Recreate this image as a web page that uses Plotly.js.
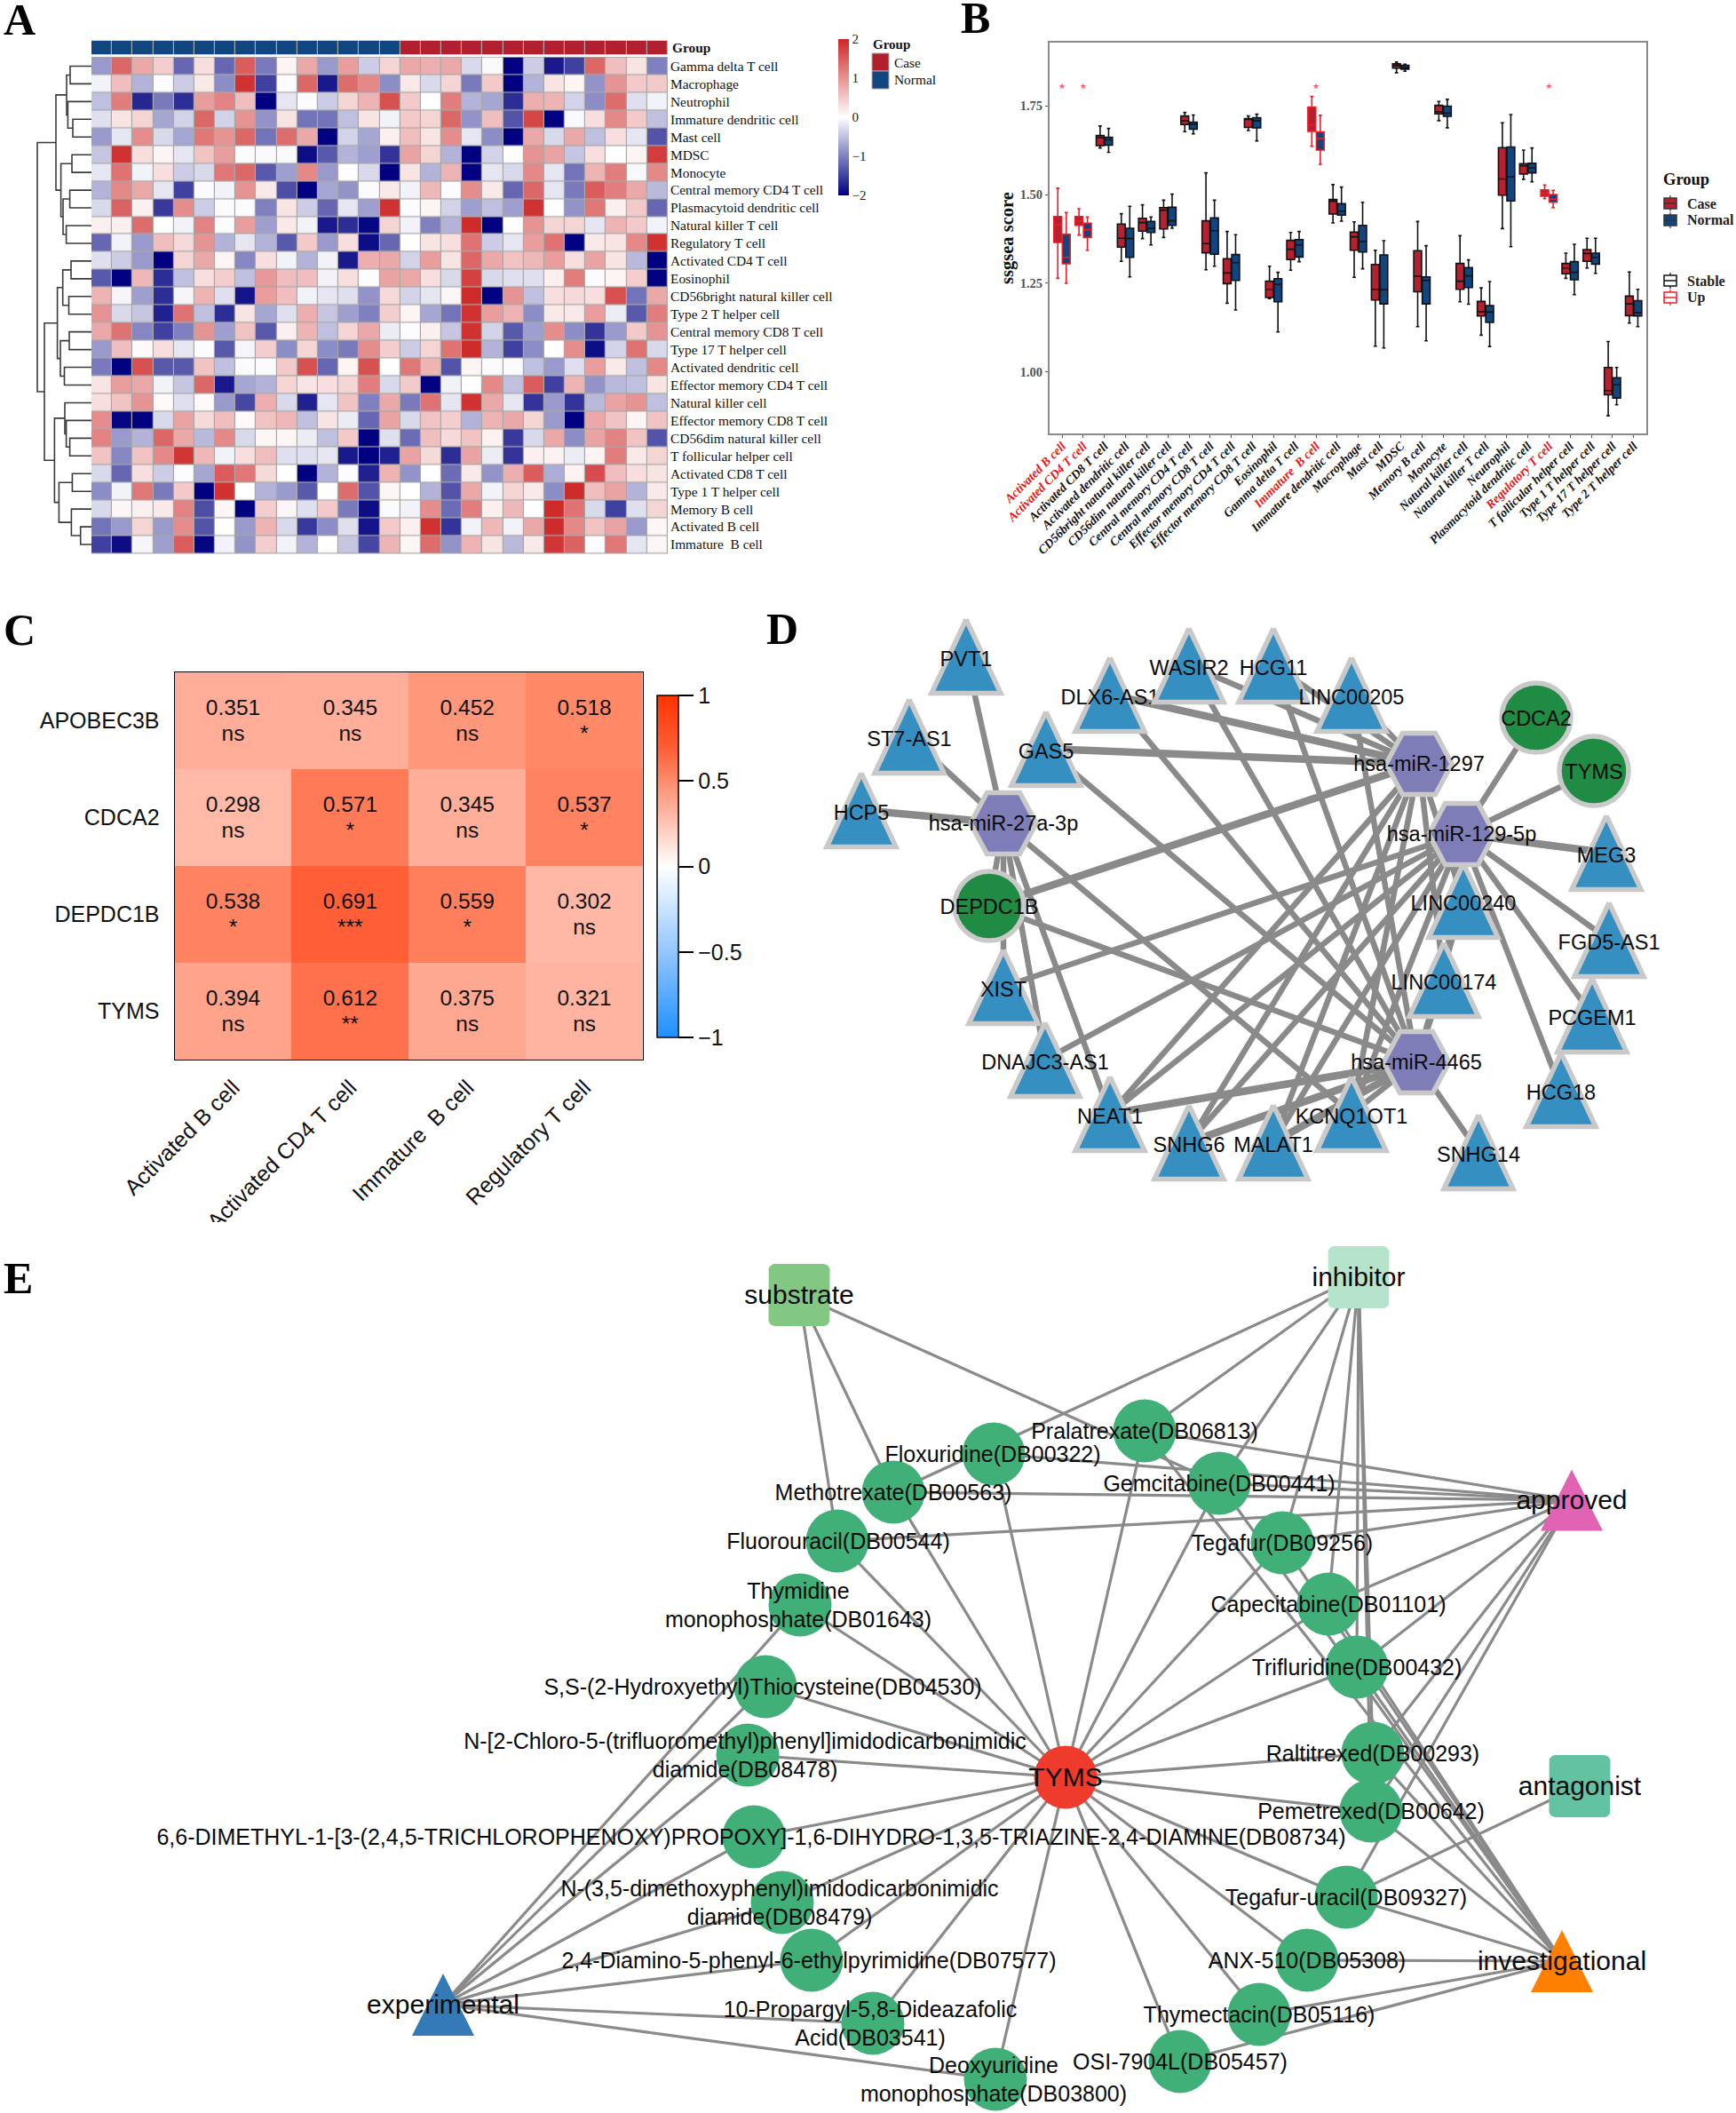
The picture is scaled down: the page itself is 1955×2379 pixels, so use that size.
<!DOCTYPE html>
<html><head><meta charset="utf-8">
<script src="https://cdn.plot.ly/plotly-3.0.1.min.js"></script>
<style>html,body{margin:0;padding:0;background:#fff}#g{width:1955px;height:2379px}</style>
</head><body><div id="g"></div>
<script>
const W=1955,H=2379;
const SERIF='"Liberation Serif","Times New Roman",serif', SANS='"Liberation Sans",Arial,sans-serif';

/* ---------- Panel A data ---------- */
const heatRows=["Gamma delta T cell","Macrophage","Neutrophil","Immature dendritic cell","Mast cell","MDSC","Monocyte","Central memory CD4 T cell","Plasmacytoid dendritic cell","Natural killer T cell","Regulatory T cell","Activated CD4 T cell","Eosinophil","CD56bright natural killer cell","Type 2 T helper cell","Central memory CD8 T cell","Type 17 T helper cell","Activated dendritic cell","Effector memory CD4 T cell","Natural killer cell","Effector memory CD8 T cell","CD56dim natural killer cell","T follicular helper cell","Activated CD8 T cell","Type 1 T helper cell","Memory B cell","Activated B cell","Immature  B cell"];
const heatValues=[
[-0.8,1.4,0.8,0.45,-1.2,0.3,-1.2,1.5,-1.05,0.1,0.8,-0.8,0.9,-0.4,0.4,0.8,0.75,0.8,-0.3,-0.05,-2,-0.4,-1.8,-1.5,1.4,0.6,0.25,-1.0],
[-0.1,0.6,-0.6,-0.02,-0.4,0.2,-0.9,1.9,-1.5,-0.02,1.4,-1.8,1.35,1.1,-0.9,0.2,-0.3,0.4,-1.05,0.5,-2,-0.6,0.25,0.1,-0.85,1.0,0.5,0.5],
[-0.5,1.2,-1.7,-1.05,-1.65,0.9,1.15,0.6,-2,-0.2,-0.02,-0.4,0.4,0.7,1.6,0.5,0,1.2,-0.6,-0.7,-1.65,0.75,0.7,-0.35,-0.9,1.35,-0.25,-0.1],
[-0.25,0.25,0.4,-0.7,-0.35,1.4,-0.35,1.0,-0.85,0.25,-1.1,-1.1,-0.5,0.25,-0.1,0.5,0.4,1.4,-0.85,0.6,-1.35,1.7,-2,-0.05,0.3,1.1,0.5,-0.5],
[-0.8,-0.2,1.05,-0.3,-0.7,1.25,1.0,1.4,-1.1,1.35,0.8,-2,-0.35,-0.7,0.15,0.6,0.25,1.05,-0.2,-0.9,-2,0.8,-0.3,0.8,-0.5,0.3,-0.2,-1.35],
[-0.45,1.9,0.3,0.1,-0.2,0.55,0.9,0.02,-0.05,-0.05,-1.9,-1.3,-0.6,-0.75,-1.6,0.85,0.4,-0.6,-2,-0.35,0.02,1.0,0.85,-0.45,0.3,0,0.1,1.8],
[-0.2,1.3,-0.1,0.3,-0.4,-0.3,1.25,1.4,-1.3,-0.75,1.1,-0.8,0.02,-0.3,-2,0.25,-0.6,0.7,-2,-0.2,-0.3,1.1,-0.2,-1.1,0.7,1.2,-0.05,1.1],
[-0.6,1.1,0.8,-0.2,-1.5,-0.03,-0.1,1.0,0.2,-1.4,-2,-0.7,-0.85,-0.03,0.2,-0.1,0.65,-0.02,1.05,0.2,-1.2,1.4,-0.2,-1.05,1.5,1.2,0.8,-0.55],
[-0.3,1.45,0.15,-1.55,1.05,-0.4,-0.03,-0.03,-1.0,0.25,-0.4,-1.2,-0.2,-0.75,1.9,-0.02,0.1,-0.35,-0.75,-0.5,-0.75,1.9,0,-0.85,1.25,0.15,0.5,-1.2],
[0.15,0.15,1.35,0,-0.1,1.15,-0.02,0.9,-0.75,0.2,-0.1,-1.8,-1.65,-1.95,0.4,-0.1,-1.0,-0.6,1.95,-2,0,1.0,0.4,0.4,-0.2,0.7,0.5,-0.1],
[-1.2,-0.1,-0.8,0.6,0.35,1.0,-0.6,-0.2,-0.6,-1.3,0.5,-0.8,0.3,-1.9,-1.2,0,0.25,0.3,1.3,-0.4,-0.2,0.9,1.3,-2,0.2,0.25,1.1,1.9],
[-0.25,-0.4,-0.8,-2,0.4,0.8,0.1,-0.95,0.3,-0.1,-0.6,-0.1,-1.8,0.75,0.8,-0.35,0.9,0.25,1.4,0.8,0.55,0.65,0.9,0.3,0.85,0.25,-0.55,-2],
[-1.3,-2,0.65,-1.65,-0.5,0.3,0.45,-0.5,0.95,0.6,0.6,-0.1,0.3,-0.02,0.85,0.8,0.3,-0.3,1.75,-0.3,-0.25,-0.25,0.15,1.2,-0.02,0.1,0.45,-2],
[0.7,-0.08,-0.75,-1.65,-0.08,0.7,-0.25,-1.85,0.9,0.6,-0.1,-0.2,-0.25,-0.85,0.35,-0.35,-0.2,0.08,1.95,-2,1.0,-0.5,0.3,0.35,0.3,1.6,-1.1,0.8],
[1.0,-0.3,-0.45,-1.75,1.3,-0.5,-1.65,0.25,-0.7,-0.25,0.75,-0.45,-0.75,-1.0,0.45,0.1,-0.7,-1.1,1.9,0.9,0.7,-0.9,0.2,0.2,0.9,-0.15,-1.3,1.2],
[0.8,1.3,-0.95,-1.5,-1.0,1.0,-0.75,0.55,-1.3,0.15,0.7,-0.5,0.4,0.8,-0.15,-0.02,0.15,-0.45,1.9,-0.35,-1.3,-0.75,1.05,-0.9,-1.6,-0.8,0.5,1.0],
[-0.8,0.6,0.05,0.3,-0.2,-0.02,-1.3,-0.08,0.45,-0.9,0.4,-0.9,-1.05,1.05,0.45,-0.4,0.4,1.3,1.95,-0.6,-1.5,-0.9,0,1.05,-1.9,-0.35,1.3,-0.3],
[-1.05,-2,1.6,-1.3,-1.3,0.55,-0.5,-0.03,-0.03,0.5,1.6,-1.2,0.1,1.6,0,1.25,0.7,-1.35,0.1,-0.03,-0.03,-0.5,-0.8,-0.25,0.9,0.2,-0.5,1.1],
[0.25,0.9,0.8,-0.1,-0.45,1.4,-1.8,-0.7,-0.6,0.4,0.25,0.3,0.4,1.2,-0.3,0.5,-2,-0.1,0,1.1,-0.5,1.5,-1.5,0.7,-0.85,-0.55,-0.5,0.25],
[0.3,0.55,1.0,0.05,-0.25,0.05,-0.8,-1.45,0.75,-0.3,-1.75,-0.2,0.55,-1.0,0.8,-1.05,1.3,-0.2,1.9,0.8,-0.2,-1.6,-0.8,-1.6,-0.55,0.85,1.0,-0.5],
[1.05,-1.95,-2,-0.3,0.85,0.35,0.6,0.05,0.55,0.65,-0.5,0.25,-0.15,-1.2,0.85,-0.3,0.55,0.45,-0.6,0.7,0.8,0.4,-0.8,-2,0.8,0.55,0.1,0.55],
[1.15,-0.8,-0.6,1.4,0.8,-0.55,1.1,-0.3,0.08,0.08,-0.15,-0.5,0.5,-2,-0.25,-1.15,0.6,0.35,0.55,0.12,-1.55,-0.3,0.8,-0.9,0.85,1.15,0.55,-1.35],
[0.55,-0.95,0.55,1.1,1.85,0.65,-0.1,0.3,0.6,-0.25,-0.25,-0.2,-1.8,-2,-1.75,0.85,0.35,-1.65,0.85,-0.15,-1.6,0.15,0.12,-0.15,0.1,1.2,0.2,0.4],
[-0.3,-1.2,0.3,-0.4,-0.02,-0.7,1.5,1.25,0.35,0,-2,-0.6,-0.02,-1.75,0.7,-0.85,0,-1.15,0.2,-0.85,0.75,1.5,-0.65,0.12,1.65,0.6,0.3,0.25],
[-0.9,-0.1,1.25,-1.05,0.5,-2,1.9,0,-0.6,-0.8,-1.3,0,1.35,-1.35,0.08,0,-0.6,-1.35,0.8,-0.1,0.4,0.2,-0.9,1.95,0.6,0.85,-0.6,0.2],
[-0.3,0.08,0.15,0.2,1.15,-1.4,0.08,-2,0.45,0.08,-0.25,0.5,-1.05,-1.9,-0.03,-0.1,1.05,-1.15,1.2,0.15,0.65,0,1.95,1.3,-0.3,-1.5,-0.25,0.4],
[-1.1,-0.8,0.4,-0.8,1.05,-1.35,0,-0.8,0.7,-0.3,-1.55,-0.9,-0.25,-1.85,0.5,0.15,1.9,-1.6,-0.1,0.65,-0.1,0.8,1.95,1.1,0.55,0.85,-0.8,0.08],
[-1.5,-1.9,-0.08,-0.75,1.5,-1.95,-0.1,-0.85,0.45,-0.1,-0.6,0,-0.45,-1.45,0.7,0.08,1.35,-0.85,0.7,0.25,-0.55,0.2,1.85,1.45,-0.02,1.25,-0.2,0.08]];
const groupBar=[0,0,0,0,0,0,0,0,0,0,0,0,0,0,0,1,1,1,1,1,1,1,1,1,1,1,1,1];
/* dendrogram merges: [childA, childB, height]; leaves are rows 0..27, merged nodes number on from 28 */
const dendroMerges=[[0,1,24],[3,4,21],[2,29,26.6],[28,30,28],[5,6,22],[7,8,24.4],[9,10,28.4],[33,34,32],[32,35,34.4],[31,36,40],
[11,12,23],[13,14,25.5],[38,39,32.3],[15,16,25],[17,18,30.5],[41,42,35],[40,43,38.4],[21,22,24.4],[20,45,28.4],[19,46,30],
[23,24,21.6],[26,27,12.3],[25,49,22.6],[48,50,36.6],[47,51,41.6],[44,52,53],[37,53,61]];

/* ---------- Panel B data ---------- */
const ssCells=["Activated B cell","Activated CD4 T cell","Activated CD8 T cell","Activated dendritic cell","CD56bright natural killer cell","CD56dim natural killer cell","Central memory CD4 T cell","Central memory CD8 T cell","Effector memory CD4 T cell","Effector memory CD8 T cell","Eosinophil","Gamma delta T cell","Immature  B cell","Immature dendritic cell","Macrophage","Mast cell","MDSC","Memory B cell","Monocyte","Natural killer cell","Natural killer T cell","Neutrophil","Plasmacytoid dendritic cell","Regulatory T cell","T follicular helper cell","Type 1 T helper cell","Type 17 T helper cell","Type 2 T helper cell"];
const upCells=[0,1,12,23];
const caseLow=[1.264,1.386,1.631,1.312,1.376,1.379,1.677,1.288,1.194,1.68,1.207,1.287,1.636,1.42,1.267,1.073,1.843,1.128,1.708,1.198,1.104,1.404,1.543,1.488,1.264,1.293,0.877,1.138];
const caseQ1=[1.365,1.413,1.638,1.352,1.397,1.403,1.697,1.336,1.249,1.689,1.21,1.317,1.678,1.445,1.343,1.203,1.856,1.226,1.727,1.233,1.158,1.498,1.558,1.495,1.277,1.312,0.936,1.159];
const caseMed=[1.414,1.426,1.66,1.377,1.421,1.456,1.708,1.362,1.279,1.712,1.233,1.346,1.696,1.481,1.381,1.233,1.863,1.27,1.733,1.256,1.17,1.544,1.581,1.504,1.293,1.334,0.948,1.192];
const caseQ3=[1.438,1.438,1.666,1.417,1.433,1.463,1.721,1.426,1.319,1.714,1.256,1.371,1.746,1.486,1.394,1.303,1.868,1.342,1.751,1.306,1.199,1.632,1.587,1.513,1.306,1.345,1.013,1.214];
const caseHigh=[1.518,1.46,1.693,1.446,1.471,1.484,1.731,1.561,1.396,1.721,1.298,1.393,1.776,1.528,1.423,1.343,1.873,1.424,1.762,1.384,1.237,1.702,1.625,1.527,1.335,1.377,1.086,1.282];
const normLow=[1.25,1.343,1.619,1.268,1.358,1.405,1.671,1.298,1.175,1.651,1.113,1.311,1.585,1.425,1.291,1.068,1.847,1.088,1.688,1.191,1.072,1.353,1.536,1.463,1.218,1.278,0.908,1.128];
const normQ1=[1.305,1.379,1.639,1.323,1.393,1.413,1.684,1.332,1.258,1.688,1.198,1.324,1.625,1.442,1.338,1.192,1.853,1.192,1.72,1.238,1.14,1.482,1.561,1.478,1.26,1.304,0.927,1.158];
const normMed=[1.323,1.401,1.654,1.376,1.405,1.426,1.698,1.398,1.308,1.708,1.247,1.358,1.658,1.453,1.368,1.232,1.858,1.258,1.729,1.271,1.169,1.55,1.575,1.487,1.281,1.323,0.964,1.167];
const normQ3=[1.388,1.419,1.661,1.405,1.424,1.464,1.704,1.434,1.331,1.716,1.263,1.373,1.676,1.474,1.413,1.33,1.864,1.268,1.749,1.294,1.187,1.634,1.588,1.5,1.311,1.335,0.984,1.201];
const normHigh=[1.449,1.437,1.686,1.467,1.437,1.501,1.724,1.484,1.387,1.726,1.281,1.396,1.723,1.521,1.478,1.37,1.867,1.356,1.768,1.316,1.255,1.725,1.631,1.512,1.36,1.377,1.013,1.233];

/* ---------- Panel C data ---------- */
const corrGenes=["APOBEC3B","CDCA2","DEPDC1B","TYMS"];
const corrCells=["Activated B cell","Activated CD4 T cell","Immature  B cell","Regulatory T cell"];
const corrR=[[0.351,0.345,0.452,0.518],[0.298,0.571,0.345,0.537],[0.538,0.691,0.559,0.302],[0.394,0.612,0.375,0.321]];
const corrSig=[["ns","ns","ns","*"],["ns","*","ns","*"],["*","***","*","ns"],["ns","**","ns","ns"]];

/* ---------- Panel D data ---------- */
const lncNames=["PVT1","ST7-AS1","HCP5","GAS5","DLX6-AS1","WASIR2","HCG11","LINC00205","MEG3","LINC00240","FGD5-AS1","LINC00174","PCGEM1","HCG18","XIST","DNAJC3-AS1","NEAT1","SNHG6","MALAT1","KCNQ1OT1","SNHG14"];
const lncX=[1088,1024,970,1178,1250,1339,1434,1522,1809,1648,1812,1626,1793,1758,1130,1177,1250,1339,1434,1522,1665];
const lncY=[739,829,912,843,782,749,749,782,960,1014,1058,1103,1143,1227,1111,1193,1254,1286,1286,1254,1297];
const mirNames=["hsa-miR-1297","hsa-miR-129-5p","hsa-miR-27a-3p","hsa-miR-4465"];
const mirX=[1598,1646,1130,1595];
const mirY=[860,939,927,1196];
const geneNames=["CDCA2","TYMS","DEPDC1B"];
const geneX=[1730,1795,1114];
const geneY=[808,868,1020];
const thinEdges=[["hsa-miR-27a-3p","PVT1"],["hsa-miR-27a-3p","ST7-AS1"],["hsa-miR-27a-3p","DEPDC1B"],["hsa-miR-27a-3p","XIST"],["hsa-miR-27a-3p","DNAJC3-AS1"],["hsa-miR-27a-3p","NEAT1"],["hsa-miR-27a-3p","KCNQ1OT1"],
["hsa-miR-1297","LINC00205"],["hsa-miR-1297","HCG11"],["hsa-miR-1297","WASIR2"],["hsa-miR-1297","NEAT1"],["hsa-miR-1297","SNHG6"],["hsa-miR-1297","MALAT1"],["hsa-miR-1297","KCNQ1OT1"],["hsa-miR-1297","LINC00240"],["hsa-miR-1297","LINC00174"],
["hsa-miR-129-5p","CDCA2"],["hsa-miR-129-5p","TYMS"],["hsa-miR-129-5p","FGD5-AS1"],["hsa-miR-129-5p","PCGEM1"],["hsa-miR-129-5p","HCG18"],["hsa-miR-129-5p","XIST"],["hsa-miR-129-5p","DNAJC3-AS1"],["hsa-miR-129-5p","NEAT1"],["hsa-miR-129-5p","SNHG6"],["hsa-miR-129-5p","MALAT1"],["hsa-miR-129-5p","KCNQ1OT1"],["hsa-miR-129-5p","LINC00240"],["hsa-miR-129-5p","LINC00174"],
["hsa-miR-4465","DLX6-AS1"],["hsa-miR-4465","WASIR2"],["hsa-miR-4465","HCG11"],["hsa-miR-4465","GAS5"],["hsa-miR-4465","DEPDC1B"],["hsa-miR-4465","KCNQ1OT1"],["hsa-miR-4465","SNHG14"],["hsa-miR-4465","LINC00174"],["hsa-miR-4465","LINC00240"],["hsa-miR-4465","LINC00205"]];
const thickEdges=[["hsa-miR-27a-3p","HCP5"],["hsa-miR-1297","DLX6-AS1"],["hsa-miR-1297","GAS5"],["hsa-miR-1297","DEPDC1B"],["hsa-miR-129-5p","MEG3"],["hsa-miR-4465","NEAT1"],["hsa-miR-4465","SNHG6"],["hsa-miR-4465","MALAT1"]];

/* ---------- Panel E data ---------- */
const drugIds=["DB00322","DB06813","DB00563","DB00441","DB00544","DB09256","DB01643","DB01101","DB00432","DB04530","DB08478","DB00293","DB00642","DB08734","DB08479","DB07577","DB09327","DB05308","DB05116","DB03541","DB05457","DB03800"];
const drugLabels=["Floxuridine(DB00322)","Pralatrexate(DB06813)","Methotrexate(DB00563)","Gemcitabine(DB00441)","Fluorouracil(DB00544)","Tegafur(DB09256)","Thymidine<br>monophosphate(DB01643)","Capecitabine(DB01101)","Trifluridine(DB00432)","S,S-(2-Hydroxyethyl)Thiocysteine(DB04530)","N-[2-Chloro-5-(trifluoromethyl)phenyl]imidodicarbonimidic<br>diamide(DB08478)","Raltitrexed(DB00293)","Pemetrexed(DB00642)","6,6-DIMETHYL-1-[3-(2,4,5-TRICHLOROPHENOXY)PROPOXY]-1,6-DIHYDRO-1,3,5-TRIAZINE-2,4-DIAMINE(DB08734)","N-(3,5-dimethoxyphenyl)imidodicarbonimidic<br>diamide(DB08479)","2,4-Diamino-5-phenyl-6-ethylpyrimidine(DB07577)","Tegafur-uracil(DB09327)","ANX-510(DB05308)","Thymectacin(DB05116)","10-Propargyl-5,8-Dideazafolic<br>Acid(DB03541)","OSI-7904L(DB05457)","Deoxyuridine<br>monophosphate(DB03800)"];
const drugX=[1119,1289,1006,1373,943,1444,901,1496,1528,862,842,1546,1544,849,881,914,1516,1472,1418,983,1329,1121];
const drugY=[1637,1611,1680,1670,1735,1737,1807,1806,1877,1899,1976,1974,2039,2068,2142,2207,2136,2207,2268,2278,2321,2341];
const drugLabelX=[1118,1289,1006,1373,944,1444,899,1496,1528,859,839,1546,1544,846,878,911,1516,1472,1418,980,1329,1119];
const hubNames=["substrate","inhibitor","antagonist","approved","investigational","experimental","TYMS"];
const hubX=[900,1530,1779,1770,1759,499,1200];
const hubY=[1458,1438,2011,1689,2208,2257,2001];
const hubEdges={
 substrate:["DB00563","DB00544","DB00441"],
 inhibitor:["DB00563","DB06813","DB00441","DB09256","DB01101","DB00432","DB00293","DB00642"],
 antagonist:["DB09327"],
 approved:["DB00322","DB06813","DB00563","DB00441","DB00544","DB09256","DB01101","DB00432","DB00293","DB00642","DB09327"],
 investigational:["DB06813","DB00441","DB09256","DB01101","DB00432","DB00293","DB00642","DB09327","DB05308","DB05116","DB05457"],
 experimental:["DB01643","DB04530","DB08478","DB08734","DB08479","DB07577","DB03541","DB03800"],
 TYMS:drugIds};

/* ---------- helpers ---------- */
const dx=(a,b)=>[a/W,b/W], dy=(a,b)=>[1-b/H,1-a/H];
const range=n=>Array.from({length:n},(_,i)=>i);
const pick=(arr,ids)=>ids.map(i=>arr[i]);
const traces=[], shapes=[], ann=[];
const hide={visible:false,fixedrange:true};

/* A: heat */
shapes.push({type:'rect',xref:'paper',yref:'paper',x0:103/W,x1:752/W,y0:1-623.5/H,y1:1-64/H,fillcolor:'#a8a8a8',line:{width:0},layer:'below'});
shapes.push({type:'rect',xref:'paper',yref:'paper',x0:103/W,x1:752/W,y0:1-61.5/H,y1:1-45.5/H,fillcolor:'#a8a8a8',line:{width:0},layer:'below'});
traces.push({type:'heatmap',z:heatValues,x:range(28),y:range(28),xaxis:'x',yaxis:'y',zmin:-2,zmax:2,xgap:1.2,ygap:1.2,hoverinfo:'skip',
 colorscale:[[0,'#000080'],[0.5,'#ffffff'],[1,'#CD2626']],
 colorbar:{x:944/W,xanchor:'left',xpad:0,ypad:0,y:1-44/H,yanchor:'top',len:176,lenmode:'pixels',thickness:12,thicknessmode:'pixels',outlinewidth:0,ticks:'',
  tickmode:'array',tickvals:[-2,-1,0,1,2],ticktext:['−2','−1','0','1','2'],tickfont:{family:SERIF,size:15,color:'#222'}}});
traces.push({type:'heatmap',z:[groupBar],x:range(28),y:[0],xaxis:'x2',yaxis:'y2',zmin:0,zmax:1,xgap:1.2,ygap:0,showscale:false,hoverinfo:'skip',
 colorscale:[[0,'#11457F'],[1,'#B2202F']]});
/* dendrogram */
(function(){
 const nodeY=range(28).slice(), nodeH=range(28).map(()=>0), xs=[], ys=[];
 dendroMerges.forEach(([a,b,h])=>{
  xs.push(nodeH[a],h,h,nodeH[b],null); ys.push(nodeY[a],nodeY[a],nodeY[b],nodeY[b],null);
  nodeY.push((nodeY[a]+nodeY[b])/2); nodeH.push(h);
 });
 traces.push({type:'scatter',mode:'lines',x:xs,y:ys,xaxis:'x3',yaxis:'y3',line:{color:'#3a3a3a',width:1.6},hoverinfo:'skip',showlegend:false});
})();
/* B: boxes */
function boxTrace(name,ids,off,src,fill,col){
 return {type:'box',name,x:ids.map(i=>i+off),q1:pick(src[1],ids),median:pick(src[2],ids),q3:pick(src[3],ids),lowerfence:pick(src[0],ids),upperfence:pick(src[4],ids),
  width:0.37,whiskerwidth:0.42,fillcolor:fill,line:{color:col,width:1.6},boxpoints:false,xaxis:'x4',yaxis:'y4',hoverinfo:'skip',showlegend:false};
}
const stableCells=range(28).filter(i=>!upCells.includes(i));
const caseSrc=[caseLow,caseQ1,caseMed,caseQ3,caseHigh], normSrc=[normLow,normQ1,normMed,normQ3,normHigh];
traces.push(boxTrace('Case',stableCells,-0.2,caseSrc,'#B7202F','#111'));
traces.push(boxTrace('Normal',stableCells,0.2,normSrc,'#11457F','#111'));
traces.push(boxTrace('Case',upCells,-0.2,caseSrc,'#B7202F','#EE1C25'));
traces.push(boxTrace('Normal',upCells,0.2,normSrc,'#11457F','#EE1C25'));
traces.push({type:'scatter',mode:'markers',x:upCells,y:upCells.map(()=>1.805),xaxis:'x4',yaxis:'y4',marker:{symbol:'star',size:5.5,color:'#FF6070'},hoverinfo:'skip',showlegend:false});
/* C: corr */
traces.push({type:'heatmap',z:corrR,x:range(4),y:range(4),xaxis:'x5',yaxis:'y5',zmin:-1,zmax:1,hoverinfo:'skip',
 colorscale:[[0,'#1E90FF'],[0.25,'#93C6FF'],[0.5,'#ffffff'],[0.675,'#FFAD98'],[0.75,'#FF8C6C'],[0.845,'#FF5E36'],[1,'#FF3300']],
 colorbar:{x:740/W,xanchor:'left',xpad:0,ypad:0,y:1-783/H,yanchor:'top',len:384.5,lenmode:'pixels',thickness:24,thicknessmode:'pixels',outlinecolor:'#000',outlinewidth:1.5,ticks:'outside',ticklen:17,tickwidth:1.5,tickcolor:'#000',
  tickmode:'array',tickvals:[-1,-0.5,0,0.5,1],ticktext:['−1','−0.5','0','0.5','1'],tickfont:{family:SANS,size:25,color:'#111'}}});
(function(){
 const xs=[],ys=[],t1=[],t2=[];
 corrGenes.forEach((g,j)=>corrCells.forEach((c,i)=>{xs.push(i);ys.push(j);t1.push(corrR[j][i].toFixed(3));t2.push(corrSig[j][i]);}));
 const f={family:SANS,size:24.5,color:'#111'};
 traces.push({type:'scatter',mode:'text',x:xs,y:ys.map(v=>v-0.115),text:t1,textfont:f,textposition:'middle center',xaxis:'x5',yaxis:'y5',hoverinfo:'skip',showlegend:false});
 traces.push({type:'scatter',mode:'text',x:xs,y:ys.map(v=>v+0.15),text:t2,textfont:f,textposition:'middle center',xaxis:'x5',yaxis:'y5',hoverinfo:'skip',showlegend:false});
})();
/* network helpers (x6/y6 = full-canvas pixel axis) */
function polys(cxs,cys,fn){const X=[],Y=[];cxs.forEach((c,i)=>{fn().forEach(p=>{X.push(c+p[0]);Y.push(cys[i]+p[1]);});X.push(null);Y.push(null);});return {X,Y};}
const triangle=(w,h)=>()=>[[0,-h/2],[w/2,h/2],[-w/2,h/2],[0,-h/2]];
const hexagon=(w,h)=>()=>[[-w/2,0],[-w/4,-h/2],[w/4,-h/2],[w/2,0],[w/4,h/2],[-w/4,h/2],[-w/2,0]];
const rounded=(w,h,r)=>()=>{const p=[];[[w/2-r,-h/2+r,-90],[w/2-r,h/2-r,0],[-w/2+r,h/2-r,90],[-w/2+r,-h/2+r,180]].forEach(([a,b,s])=>{for(let k=0;k<=6;k++){const t=(s+k*15)*Math.PI/180;p.push([a+r*Math.cos(t),b+r*Math.sin(t)]);}});p.push(p[0]);return p;};
function polyTrace(cxs,cys,fn,fill,lc,lw){const {X,Y}=polys(cxs,cys,fn);return {type:'scatter',mode:'lines',x:X,y:Y,fill:'toself',fillcolor:fill,line:{color:lc||fill,width:lw||0,},xaxis:'x6',yaxis:'y6',hoverinfo:'skip',showlegend:false};}
function edgeTrace(list,lookup,w){const X=[],Y=[];list.forEach(([a,b])=>{const p=lookup[a],q=lookup[b];X.push(p[0],q[0],null);Y.push(p[1],q[1],null);});return {type:'scatter',mode:'lines',x:X,y:Y,line:{color:'#8a8a8a',width:w},xaxis:'x6',yaxis:'y6',hoverinfo:'skip',showlegend:false};}
function textTrace(xs,ys,txt,size,shift){return {type:'scatter',mode:'text',x:xs,y:ys.map(v=>v+shift),text:txt,textposition:'middle center',textfont:{family:SANS,size,color:'#0a0a0a'},xaxis:'x6',yaxis:'y6',hoverinfo:'skip',showlegend:false,cliponaxis:false};}
/* D */
const dLook={};
lncNames.forEach((n,i)=>dLook[n]=[lncX[i],lncY[i]]);mirNames.forEach((n,i)=>dLook[n]=[mirX[i],mirY[i]]);geneNames.forEach((n,i)=>dLook[n]=[geneX[i],geneY[i]]);
traces.push(edgeTrace(thinEdges,dLook,6.5));
traces.push(edgeTrace(thickEdges,dLook,8.5));
const frontIdx=lncNames.indexOf('WASIR2'), dlxIdx=lncNames.indexOf('DLX6-AS1');
const backIdx=range(lncNames.length).filter(i=>i!==frontIdx);
traces.push(polyTrace(pick(lncX,backIdx),pick(lncY,backIdx),triangle(78,83),'#368FC1','#C9C9C9',5.5));
traces.push(textTrace([lncX[dlxIdx]],[lncY[dlxIdx]],[lncNames[dlxIdx]],23.5,5));
traces.push(polyTrace([lncX[frontIdx]],[lncY[frontIdx]],triangle(78,83),'#368FC1','#C9C9C9',5.5));
traces.push(polyTrace(mirX,mirY,hexagon(74,69),'#7F7DB7','#C9C9C9',5.5));
traces.push({type:'scatter',mode:'markers',x:geneX,y:geneY,marker:{size:78,color:'#208B42',line:{color:'#C9C9C9',width:5.5}},xaxis:'x6',yaxis:'y6',hoverinfo:'skip',showlegend:false});
const labelIdx=range(lncNames.length).filter(i=>i!==dlxIdx);
traces.push(textTrace(pick(lncX,labelIdx),pick(lncY,labelIdx),pick(lncNames,labelIdx),23.5,5));
traces.push(textTrace(mirX,mirY,mirNames,23.5,2));
traces.push(textTrace(geneX,geneY,geneNames,23.5,3));
/* E */
const eLook={};
drugIds.forEach((n,i)=>eLook[n]=[drugX[i],drugY[i]]);hubNames.forEach((n,i)=>eLook[n]=[hubX[i],hubY[i]]);
const eEdges=[];Object.keys(hubEdges).forEach(h=>hubEdges[h].forEach(d=>eEdges.push([h,d])));
traces.push(edgeTrace(eEdges,eLook,3.2));
traces.push({type:'scatter',mode:'markers',x:drugX,y:drugY,marker:{size:71,color:'#40AF78'},xaxis:'x6',yaxis:'y6',hoverinfo:'skip',showlegend:false});
traces.push({type:'scatter',mode:'markers',x:[hubX[6]],y:[hubY[6]],marker:{size:71,color:'#EE3B2B'},xaxis:'x6',yaxis:'y6',hoverinfo:'skip',showlegend:false});
traces.push(polyTrace([hubX[0]],[hubY[0]],rounded(69,70,7),'#82C882'));
traces.push(polyTrace([hubX[1]],[hubY[1]],rounded(69,70,7),'#B5E3CB'));
traces.push(polyTrace([hubX[2]],[hubY[2]],rounded(69,70,7),'#63C2A2'));
traces.push(polyTrace([hubX[3]],[hubY[3]],triangle(70,69),'#E063B4'));
traces.push(polyTrace([hubX[4]],[hubY[4]],triangle(70,70),'#FF8000'));
traces.push(polyTrace([hubX[5]],[hubY[5]],triangle(70,70),'#337AB7'));
traces.push(textTrace(drugLabelX,drugY,drugLabels,25,2.5));
traces.push(textTrace(hubX.slice(0,6),hubY.slice(0,6),hubNames.slice(0,6),30,2.5));
traces.push(textTrace([hubX[6]],[hubY[6]],['TYMS'],30,2.5));

/* text & legend helpers */
const note=(x,y,text,o)=>ann.push(Object.assign({xref:'paper',yref:'paper',x:x/W,y:1-y/H,text,showarrow:false,xanchor:'left',yanchor:'middle',font:{family:SERIF,size:15.4,color:'#111'}},o||{}));
[['A',2,22],['B',1080,20],['C',2,709],['D',861,708],['E',2,1439]].forEach(([t,x,y])=>note(x,y,'<b>'+t+'</b>',{font:{family:SERIF,size:50,color:'#000'}}));
note(755,54,'<b>Group</b>',{font:{family:SERIF,size:15.4,color:'#111'}});
note(980.5,50,'<b>Group</b>',{font:{family:SERIF,size:15,color:'#111'}});
note(1004.5,70,'Case');note(1004.5,90,'Normal');
const rect=(x0,y0,x1,y1,fill,line,lw)=>shapes.push({type:'rect',xref:'paper',yref:'paper',x0:x0/W,x1:x1/W,y0:1-y1/H,y1:1-y0/H,fillcolor:fill,line:{color:line||fill,width:lw===undefined?0:lw}});
const seg=(x0,y0,x1,y1,c,lw)=>shapes.push({type:'line',xref:'paper',yref:'paper',x0:x0/W,x1:x1/W,y0:1-y1/H,y1:1-y0/H,line:{color:c,width:lw}});
rect(982,60,1001,80,'#B2202F','#a8a8a8',1);rect(982,80,1001,100,'#11457F','#a8a8a8',1);
note(1871,202,'<b>Group</b>',{font:{family:SERIF,size:18.5,color:'#111'}});
[[229,'Case','#B7202F','#333'],[248,'Normal','#11457F','#333'],[316,'Stable','#fff','#111'],[335,'Up','#fff','#EE1C25']].forEach(([y,t,f,c])=>{
 seg(1881,y-9,1881,y+9,c,1.2);rect(1874,y-6,1888,y+6,f,c,1.5);seg(1874,y,1888,y,c,1.5);
 note(1897.5,y,'<b>'+t+'</b>',{font:{family:SERIF,size:16,color:'#222'}});
});
/* clip of the C x-labels at the figure panel edge */
shapes.push({type:'rect',xref:'paper',yref:'paper',x0:180/W,x1:420/W,y0:1-1396/H,y1:1-1376/H,fillcolor:'#fff',line:{width:0},layer:'above'});

const layout={width:W,height:H,margin:{l:0,r:0,t:0,b:0},paper_bgcolor:'#fff',plot_bgcolor:'rgba(0,0,0,0)',showlegend:false,boxmode:'overlay',shapes,annotations:ann,
 xaxis:{domain:dx(103,752),range:[-0.5,27.5],...hide,anchor:'y'},
 yaxis:{domain:dy(64.5,623),range:[27.5,-0.5],anchor:'x',side:'right',fixedrange:true,showline:false,showgrid:false,zeroline:false,ticks:'',tickmode:'array',tickvals:range(28),ticktext:heatRows,tickfont:{family:SERIF,size:15.4,color:'#111'},ticklabelstandoff:2},
 xaxis2:{domain:dx(103,752),range:[-0.5,27.5],...hide,anchor:'y2'},
 yaxis2:{domain:dy(46,61),range:[-0.5,0.5],...hide,anchor:'x2'},
 xaxis3:{domain:dx(40,103),range:[63,0],...hide,anchor:'y3'},
 yaxis3:{domain:dy(64.5,623),range:[27.5,-0.5],...hide,anchor:'x3'},
 xaxis4:{domain:dx(1181.7,1854),range:[-0.6,27.6],anchor:'y4',fixedrange:true,showgrid:false,zeroline:false,showline:true,mirror:true,linecolor:'#8a8a8a',linewidth:1.6,ticks:'outside',ticklen:3,tickcolor:'#555',tickmode:'array',tickvals:range(28),ticklabelstandoff:-4,
   ticktext:ssCells.map((c,i)=>upCells.includes(i)?'<span style="color:#E8141C">'+c+'</span>':c),tickangle:-45,tickfont:{family:SERIF,size:14,weight:'bold',style:'italic',color:'#111'}},
 yaxis4:{domain:dy(48.3,487.7),range:[0.828,1.927],anchor:'x4',fixedrange:true,showgrid:false,zeroline:false,showline:true,mirror:true,linecolor:'#8a8a8a',linewidth:1.6,ticks:'outside',ticklen:3,tickcolor:'#555',tickmode:'array',tickvals:[1,1.25,1.5,1.75],ticktext:['1.00','1.25','1.50','1.75'],
   tickfont:{family:SERIF,size:14.5,weight:'bold',color:'#555'},title:{text:'ssgsea score',font:{family:SERIF,size:20.5,weight:'bold',color:'#111'},standoff:1}},
 xaxis5:{domain:dx(196.6,724),range:[-0.5,3.5],anchor:'y5',fixedrange:true,showgrid:false,zeroline:false,showline:true,mirror:true,linecolor:'#000',linewidth:1.1,ticks:'',tickmode:'array',tickvals:range(4),ticktext:corrCells,tickangle:-45,tickfont:{family:SANS,size:25,color:'#111'},ticklabelstandoff:6},
 yaxis5:{domain:dy(757,1193),range:[3.5,-0.5],anchor:'x5',fixedrange:true,showgrid:false,zeroline:false,showline:true,mirror:true,linecolor:'#000',linewidth:1.1,ticks:'',tickmode:'array',tickvals:range(4),ticktext:corrGenes,tickfont:{family:SANS,size:25,color:'#111'},ticklabelstandoff:11},
 xaxis6:{domain:[0,1],range:[0,W],...hide,anchor:'y6'},
 yaxis6:{domain:[0,1],range:[H,0],...hide,anchor:'x6'}
};
Plotly.newPlot('g',traces,layout,{displayModeBar:false,responsive:false});
</script></body></html>
